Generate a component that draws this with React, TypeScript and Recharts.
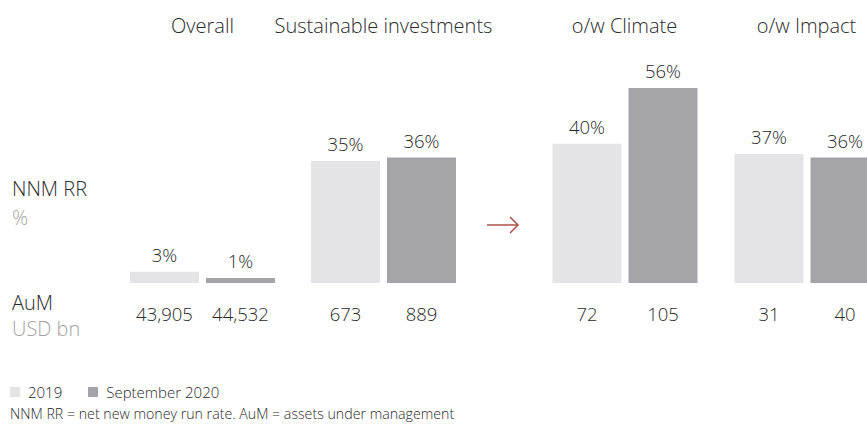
import React from "react";
import { BarChart, Bar, XAxis, YAxis, LabelList } from "recharts";

const groups = ["Overall", "Sustainable investments", "o/w Climate", "o/w Impact"];
const nnm2019 = [3.2, 35, 40, 37];
const nnmSep2020 = [1.4, 36, 56, 36];
const aum2019 = [43905, 673, 72, 31];
const aumSep2020 = [44532, 889, 105, 40];
const seriesNames = ["2019", "September 2020"];

const LIGHT = "#e4e4e6";
const DARK = "#a5a4a8";
const TEXT = "#2b2b2b";
const MUTED = "#a3a3a3";
const FONT = "'Open Sans', 'Noto Sans', sans-serif";
const LABEL_SIZE = 18.5;

const rows = groups.map((name, i) => ({
  name,
  nnm2019: nnm2019[i],
  nnmSep2020: nnmSep2020[i],
  aum2019: aum2019[i],
  aumSep2020: aumSep2020[i],
}));

const pct = (v: any) => `${Math.round(Number(v))}%`;
const num = (v: any) => Number(v).toLocaleString("en-US");

const HeaderTick = (props: any) => {
  const { x, payload } = props;
  return (
    <text x={x} y={33} textAnchor="middle" fill={TEXT} fontSize={20} fontWeight={300} fontFamily={FONT}>
      {payload.value}
    </text>
  );
};

const labelStyle = { fill: TEXT, fontSize: LABEL_SIZE, fontWeight: 300, fontFamily: FONT };

function Panel({ data, width, left, marginLeft, marginRight }: any) {
  return (
    <div style={{ position: "absolute", left, top: 0 }}>
      <BarChart
        width={width}
        height={425}
        data={data}
        barSize={69}
        barGap={7}
        margin={{ top: 34, right: marginRight, bottom: 142, left: marginLeft }}
      >
        <XAxis
          dataKey="name"
          orientation="top"
          height={40}
          axisLine={false}
          tickLine={false}
          tick={<HeaderTick />}
          interval={0}
        />
        <YAxis hide domain={[0, 60]} />
        <Bar dataKey="nnm2019" name={seriesNames[0]} fill={LIGHT} isAnimationActive={false}>
          <LabelList dataKey="nnm2019" position="top" offset={10} formatter={pct} {...labelStyle} />
          <LabelList dataKey="aum2019" position="bottom" offset={25} formatter={num} {...labelStyle} />
        </Bar>
        <Bar dataKey="nnmSep2020" name={seriesNames[1]} fill={DARK} isAnimationActive={false}>
          <LabelList dataKey="nnmSep2020" position="top" offset={10} formatter={pct} {...labelStyle} />
          <LabelList dataKey="aumSep2020" position="bottom" offset={25} formatter={num} {...labelStyle} />
        </Bar>
      </BarChart>
    </div>
  );
}

export default function App() {
  const txt = { position: "absolute" as const, left: 12, fontSize: 20, fontWeight: 300, lineHeight: "22px", margin: 0 };
  return (
    <div
      style={{
        position: "relative",
        width: 867,
        height: 425,
        overflow: "hidden",
        fontFamily: FONT,
        color: TEXT,
        background: "#fff",
      }}
    >
      <style>{`body{margin:0}`}</style>
      <Panel data={rows.slice(0, 2)} width={530} left={0} marginLeft={112} marginRight={56} />
      <Panel data={rows.slice(2)} width={440} left={480} marginLeft={53.5} marginRight={22.5} />

      {/* arrow between the two panels */}
      <svg style={{ position: "absolute", left: 486, top: 214 }} width={36} height={22}>
        <line x1={1} y1={11} x2={32} y2={11} stroke="#a8453c" strokeWidth={1.4} />
        <polyline points="24,3 32,11 24,19" fill="none" stroke="#a8453c" strokeWidth={1.4} />
      </svg>

      <div style={{ ...txt, top: 178 }}>NNM RR</div>
      <div style={{ ...txt, top: 207, color: MUTED }}>%</div>
      <div style={{ ...txt, top: 292 }}>AuM</div>
      <div style={{ ...txt, top: 318, color: MUTED }}>USD bn</div>

      <div style={{ position: "absolute", left: 10, top: 382, display: "flex", alignItems: "center", fontSize: 15, fontWeight: 300 }}>
        {seriesNames.map((s, i) => (
          <span key={s} style={{ display: "flex", alignItems: "center", marginRight: 26 }}>
            <span style={{ width: 10, height: 10, background: i === 0 ? LIGHT : DARK, marginRight: 8, display: "inline-block" }} />
            {s}
          </span>
        ))}
      </div>
      <div style={{ position: "absolute", left: 10, top: 404, fontSize: 14.2, fontWeight: 300, whiteSpace: "nowrap" }}>
        NNM RR = net new money run rate. AuM = assets under management
      </div>
    </div>
  );
}
